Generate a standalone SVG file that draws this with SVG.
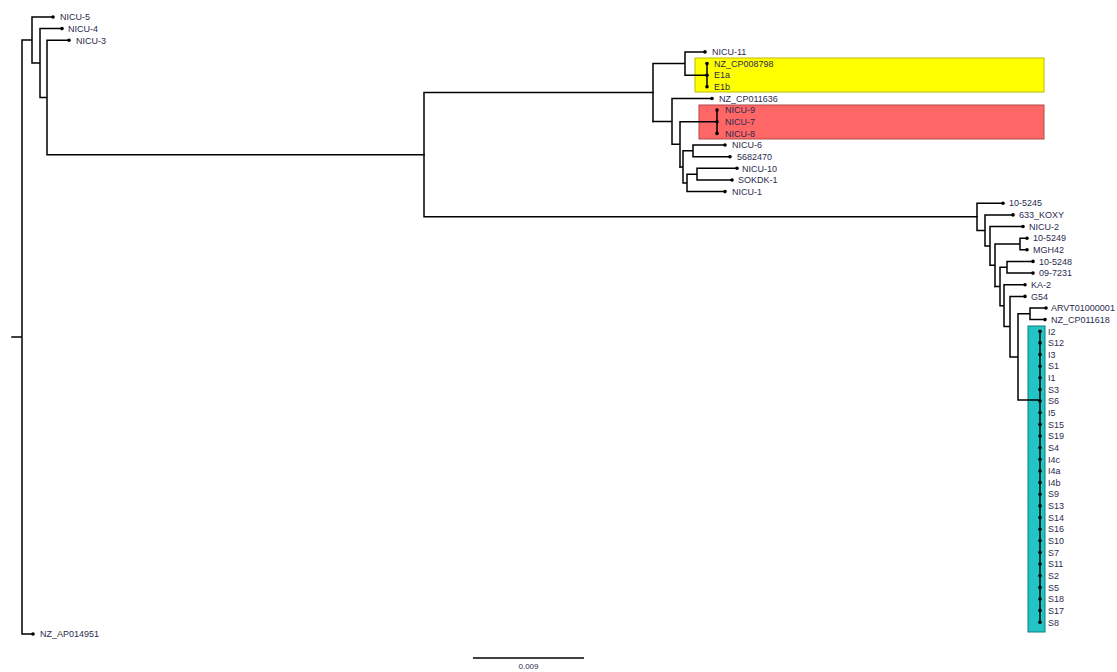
<svg xmlns="http://www.w3.org/2000/svg" width="1117" height="672" viewBox="0 0 1117 672">
<style>
.e{fill:none;stroke:#000;stroke-width:1.5;stroke-linecap:square}
.d{fill:#000}
text{font-family:"Liberation Sans",Arial,sans-serif;font-size:9px;fill:#2b2b4f}
.sc{font-size:8px}
</style>
<rect width="1117" height="672" fill="#fff"/>
<g id="highlights">
<rect x="695" y="58" width="349" height="34" fill="#ffff00" stroke="#bcbc00" stroke-width="1"/>
<rect x="699" y="105" width="345" height="34" fill="#ff6666" stroke="#b04848" stroke-width="1"/>
<rect x="1028" y="326" width="17" height="306" fill="#22c4c4" stroke="#0f7f7f" stroke-width="1"/>
</g>
<g id="connectors" class="e">
<path d="M12,337H22M22,40V634M22,40H32M22,634H33M32,17V63M32,17H53M32,63H40M40,28.6V97.5M40,28.6H62M40,97.5H47M47,40.3V154.7M47,40.3H69M47,154.7H424"/>
<path d="M424,92.5V216.8M424,92.5H653M424,216.8H977"/>
<path d="M653,63.5V121.4M653,63.5H685M685,51.9V75.2M685,51.9H705M685,75.2H707M707,63.6V86.8"/>
<path d="M653,121.4H672M672,98.5V144.3M672,98.5H712M672,144.3H680M680,121.8V166.9M680,121.8H717M717,110.1V133.4"/>
<path d="M680,166.9H683M683,150.8V182.9M683,150.8H693M693,145V156.7M693,145H725M693,156.7H730M683,182.9H687M687,174.2V191.6M687,174.2H697M697,168.3V180M697,168.3H737M697,180H732M687,191.6H725"/>
<path d="M977,203.2V230.4M977,203.2H1003M977,230.4H985M985,214.9V245.9M985,214.9H1013M985,245.9H990M990,226.5V265.2M990,226.5H1023M990,265.2H995M995,244V286.5M995,244H1020M1020,238.2V249.8M1020,238.2H1027M1020,249.8H1027"/>
<path d="M995,286.5H1000M1000,267.2V305.7M1000,267.2H1007M1007,261.4V273.1M1007,261.4H1033M1007,273.1H1033M1000,305.7H1004M1004,284.7V326.6M1004,284.7H1025M1004,326.6H1010M1010,296.4V356.9M1010,296.4H1025M1010,356.9H1018M1018,313.8V400M1018,313.8H1030M1030,308V319.6M1030,308H1046M1030,319.6H1045M1018,400H1040M1040,331.3V622.3"/>
</g>
<g id="leaf-NICU-5"><circle class="d" cx="53" cy="17" r="1.8"/><text x="60" y="20.2">NICU-5</text></g>
<g id="leaf-NICU-4"><circle class="d" cx="62" cy="28.6" r="1.8"/><text x="68" y="31.8">NICU-4</text></g>
<g id="leaf-NICU-3"><circle class="d" cx="69" cy="40.3" r="1.8"/><text x="76" y="43.5">NICU-3</text></g>
<g id="leaf-NICU-11"><circle class="d" cx="705" cy="51.9" r="1.8"/><text x="712" y="55.1">NICU-11</text></g>
<g id="leaf-NZ_CP008798"><circle class="d" cx="707" cy="63.6" r="1.8"/><text x="714" y="66.8">NZ_CP008798</text></g>
<g id="leaf-E1a"><circle class="d" cx="707" cy="75.2" r="1.8"/><text x="714" y="78.4">E1a</text></g>
<g id="leaf-E1b"><circle class="d" cx="707" cy="86.8" r="1.8"/><text x="714" y="90">E1b</text></g>
<g id="leaf-NZ_CP011636"><circle class="d" cx="712" cy="98.5" r="1.8"/><text x="719" y="101.7">NZ_CP011636</text></g>
<g id="leaf-NICU-9"><circle class="d" cx="717" cy="110.1" r="1.8"/><text x="725" y="113.3">NICU-9</text></g>
<g id="leaf-NICU-7"><circle class="d" cx="717" cy="121.8" r="1.8"/><text x="725" y="125">NICU-7</text></g>
<g id="leaf-NICU-8"><circle class="d" cx="717" cy="133.4" r="1.8"/><text x="725" y="136.6">NICU-8</text></g>
<g id="leaf-NICU-6"><circle class="d" cx="725" cy="145" r="1.8"/><text x="732" y="148.2">NICU-6</text></g>
<g id="leaf-5682470"><circle class="d" cx="730" cy="156.7" r="1.8"/><text x="737" y="159.9">5682470</text></g>
<g id="leaf-NICU-10"><circle class="d" cx="737" cy="168.3" r="1.8"/><text x="742" y="171.5">NICU-10</text></g>
<g id="leaf-SOKDK-1"><circle class="d" cx="732" cy="180" r="1.8"/><text x="738" y="183.2">SOKDK-1</text></g>
<g id="leaf-NICU-1"><circle class="d" cx="725" cy="191.6" r="1.8"/><text x="732" y="194.8">NICU-1</text></g>
<g id="leaf-10-5245"><circle class="d" cx="1003" cy="203.2" r="1.8"/><text x="1009" y="206.4">10-5245</text></g>
<g id="leaf-633_KOXY"><circle class="d" cx="1013" cy="214.9" r="1.8"/><text x="1019" y="218.1">633_KOXY</text></g>
<g id="leaf-NICU-2"><circle class="d" cx="1023" cy="226.5" r="1.8"/><text x="1029" y="229.7">NICU-2</text></g>
<g id="leaf-10-5249"><circle class="d" cx="1027" cy="238.2" r="1.8"/><text x="1033" y="241.4">10-5249</text></g>
<g id="leaf-MGH42"><circle class="d" cx="1027" cy="249.8" r="1.8"/><text x="1033" y="253">MGH42</text></g>
<g id="leaf-10-5248"><circle class="d" cx="1033" cy="261.4" r="1.8"/><text x="1039" y="264.6">10-5248</text></g>
<g id="leaf-09-7231"><circle class="d" cx="1033" cy="273.1" r="1.8"/><text x="1039" y="276.3">09-7231</text></g>
<g id="leaf-KA-2"><circle class="d" cx="1025" cy="284.7" r="1.8"/><text x="1031" y="287.9">KA-2</text></g>
<g id="leaf-G54"><circle class="d" cx="1025" cy="296.4" r="1.8"/><text x="1031" y="299.6">G54</text></g>
<g id="leaf-ARVT01000001"><circle class="d" cx="1046" cy="308" r="1.8"/><text x="1051" y="311.2">ARVT01000001</text></g>
<g id="leaf-NZ_CP011618"><circle class="d" cx="1045" cy="319.6" r="1.8"/><text x="1051" y="322.8">NZ_CP011618</text></g>
<g id="leaf-I2"><circle class="d" cx="1040" cy="331.3" r="1.8"/><text x="1048" y="334.5">I2</text></g>
<g id="leaf-S12"><circle class="d" cx="1040" cy="342.9" r="1.8"/><text x="1048" y="346.1">S12</text></g>
<g id="leaf-I3"><circle class="d" cx="1040" cy="354.6" r="1.8"/><text x="1048" y="357.8">I3</text></g>
<g id="leaf-S1"><circle class="d" cx="1040" cy="366.2" r="1.8"/><text x="1048" y="369.4">S1</text></g>
<g id="leaf-I1"><circle class="d" cx="1040" cy="377.8" r="1.8"/><text x="1048" y="381">I1</text></g>
<g id="leaf-S3"><circle class="d" cx="1040" cy="389.5" r="1.8"/><text x="1048" y="392.7">S3</text></g>
<g id="leaf-S6"><circle class="d" cx="1040" cy="401.1" r="1.8"/><text x="1048" y="404.3">S6</text></g>
<g id="leaf-I5"><circle class="d" cx="1040" cy="412.8" r="1.8"/><text x="1048" y="416">I5</text></g>
<g id="leaf-S15"><circle class="d" cx="1040" cy="424.4" r="1.8"/><text x="1048" y="427.6">S15</text></g>
<g id="leaf-S19"><circle class="d" cx="1040" cy="436" r="1.8"/><text x="1048" y="439.2">S19</text></g>
<g id="leaf-S4"><circle class="d" cx="1040" cy="447.7" r="1.8"/><text x="1048" y="450.9">S4</text></g>
<g id="leaf-I4c"><circle class="d" cx="1040" cy="459.3" r="1.8"/><text x="1048" y="462.5">I4c</text></g>
<g id="leaf-I4a"><circle class="d" cx="1040" cy="471" r="1.8"/><text x="1048" y="474.2">I4a</text></g>
<g id="leaf-I4b"><circle class="d" cx="1040" cy="482.6" r="1.8"/><text x="1048" y="485.8">I4b</text></g>
<g id="leaf-S9"><circle class="d" cx="1040" cy="494.2" r="1.8"/><text x="1048" y="497.4">S9</text></g>
<g id="leaf-S13"><circle class="d" cx="1040" cy="505.9" r="1.8"/><text x="1048" y="509.1">S13</text></g>
<g id="leaf-S14"><circle class="d" cx="1040" cy="517.5" r="1.8"/><text x="1048" y="520.7">S14</text></g>
<g id="leaf-S16"><circle class="d" cx="1040" cy="529.2" r="1.8"/><text x="1048" y="532.4">S16</text></g>
<g id="leaf-S10"><circle class="d" cx="1040" cy="540.8" r="1.8"/><text x="1048" y="544">S10</text></g>
<g id="leaf-S7"><circle class="d" cx="1040" cy="552.4" r="1.8"/><text x="1048" y="555.6">S7</text></g>
<g id="leaf-S11"><circle class="d" cx="1040" cy="564.1" r="1.8"/><text x="1048" y="567.3">S11</text></g>
<g id="leaf-S2"><circle class="d" cx="1040" cy="575.7" r="1.8"/><text x="1048" y="578.9">S2</text></g>
<g id="leaf-S5"><circle class="d" cx="1040" cy="587.4" r="1.8"/><text x="1048" y="590.6">S5</text></g>
<g id="leaf-S18"><circle class="d" cx="1040" cy="599" r="1.8"/><text x="1048" y="602.2">S18</text></g>
<g id="leaf-S17"><circle class="d" cx="1040" cy="610.6" r="1.8"/><text x="1048" y="613.8">S17</text></g>
<g id="leaf-S8"><circle class="d" cx="1040" cy="622.3" r="1.8"/><text x="1048" y="625.5">S8</text></g>
<g id="leaf-NZ_AP014951"><circle class="d" cx="33" cy="634" r="1.8"/><text x="40" y="637.2">NZ_AP014951</text></g>
<g id="scale-bar">
<path d="M473,658H584" stroke="#000" stroke-width="1.6" fill="none"/>
<text class="sc" x="528.5" y="669" text-anchor="middle">0.009</text>
</g>
</svg>
